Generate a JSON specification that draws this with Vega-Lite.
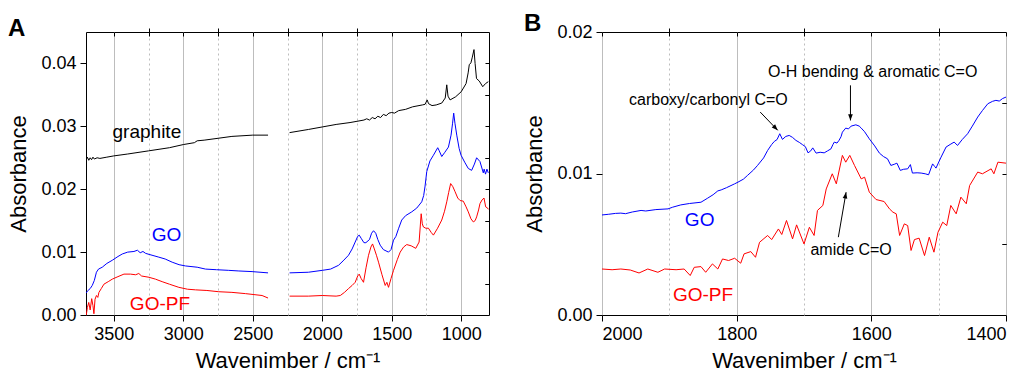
{
  "$schema": "https://vega.github.io/schema/vega-lite/v6.json",
  "padding": {"left": 7, "top": 11, "right": 5, "bottom": 2},
  "background": "white",
  "config": {
    "font": "Liberation Sans",
    "view": {"stroke": "#000000", "strokeWidth": 1},
    "axis": {
      "labelFont": "Liberation Sans", "titleFont": "Liberation Sans",
      "labelFontSize": 18, "titleFontSize": 22, "titleFontWeight": "normal",
      "labelColor": "#000000", "titleColor": "#000000", "tickColor": "#000000",
      "domain": false, "gridColor": "#bdbdbd", "gridWidth": 1, "tickWidth": 1
    },
    "title": {"fontSize": 24, "fontWeight": "bold", "anchor": "start", "frame": "bounds", "font": "Liberation Sans", "color": "#000000"}
  },
  "datasets": {
    "A": [
      {"s":"graphite","g":"L","w":3698,"a":0.0247},{"s":"graphite","g":"L","w":3690,"a":0.0251},{"s":"graphite","g":"L","w":3680,"a":0.0246},{"s":"graphite","g":"L","w":3670,"a":0.0250},{"s":"graphite","g":"L","w":3660,"a":0.0247},{"s":"graphite","g":"L","w":3650,"a":0.0251},{"s":"graphite","g":"L","w":3640,"a":0.0248},{"s":"graphite","g":"L","w":3620,"a":0.0250},{"s":"graphite","g":"L","w":3600,"a":0.0249},{"s":"graphite","g":"L","w":3550,"a":0.0251},{"s":"graphite","g":"L","w":3500,"a":0.0253},{"s":"graphite","g":"L","w":3400,"a":0.0256},{"s":"graphite","g":"L","w":3250,"a":0.0261},{"s":"graphite","g":"L","w":3100,"a":0.0266},{"s":"graphite","g":"L","w":3000,"a":0.0271},{"s":"graphite","g":"L","w":2920,"a":0.0274},{"s":"graphite","g":"L","w":2900,"a":0.0277},{"s":"graphite","g":"L","w":2850,"a":0.0278},{"s":"graphite","g":"L","w":2750,"a":0.0281},{"s":"graphite","g":"L","w":2650,"a":0.0284},{"s":"graphite","g":"L","w":2500,"a":0.0286},{"s":"graphite","g":"L","w":2390,"a":0.0286},
      {"s":"graphite","g":"R","w":2235,"a":0.0290},{"s":"graphite","g":"R","w":2100,"a":0.0295},{"s":"graphite","g":"R","w":2000,"a":0.0299},{"s":"graphite","g":"R","w":1900,"a":0.0303},{"s":"graphite","g":"R","w":1800,"a":0.0306},{"s":"graphite","g":"R","w":1750,"a":0.0308},{"s":"graphite","g":"R","w":1700,"a":0.0310},{"s":"graphite","g":"R","w":1680,"a":0.0312},{"s":"graphite","g":"R","w":1660,"a":0.0310},{"s":"graphite","g":"R","w":1640,"a":0.0314},{"s":"graphite","g":"R","w":1620,"a":0.0312},{"s":"graphite","g":"R","w":1600,"a":0.0316},{"s":"graphite","g":"R","w":1580,"a":0.0314},{"s":"graphite","g":"R","w":1560,"a":0.0319},{"s":"graphite","g":"R","w":1540,"a":0.0317},{"s":"graphite","g":"R","w":1520,"a":0.0321},{"s":"graphite","g":"R","w":1500,"a":0.0322},{"s":"graphite","g":"R","w":1480,"a":0.0321},{"s":"graphite","g":"R","w":1450,"a":0.0325},{"s":"graphite","g":"R","w":1400,"a":0.0327},{"s":"graphite","g":"R","w":1350,"a":0.0331},{"s":"graphite","g":"R","w":1280,"a":0.0334},{"s":"graphite","g":"R","w":1260,"a":0.0335},{"s":"graphite","g":"R","w":1245,"a":0.0342},{"s":"graphite","g":"R","w":1235,"a":0.0336},{"s":"graphite","g":"R","w":1210,"a":0.0333},{"s":"graphite","g":"R","w":1180,"a":0.0334},{"s":"graphite","g":"R","w":1140,"a":0.0337},{"s":"graphite","g":"R","w":1115,"a":0.0345},{"s":"graphite","g":"R","w":1104,"a":0.0366},{"s":"graphite","g":"R","w":1095,"a":0.0348},{"s":"graphite","g":"R","w":1080,"a":0.0342},{"s":"graphite","g":"R","w":1040,"a":0.0347},{"s":"graphite","g":"R","w":1000,"a":0.0355},{"s":"graphite","g":"R","w":965,"a":0.0368},{"s":"graphite","g":"R","w":950,"a":0.0385},{"s":"graphite","g":"R","w":942,"a":0.0398},{"s":"graphite","g":"R","w":930,"a":0.0401},{"s":"graphite","g":"R","w":920,"a":0.0410},{"s":"graphite","g":"R","w":908,"a":0.0422},{"s":"graphite","g":"R","w":900,"a":0.0400},{"s":"graphite","g":"R","w":890,"a":0.0376},{"s":"graphite","g":"R","w":870,"a":0.0372},{"s":"graphite","g":"R","w":845,"a":0.0363},{"s":"graphite","g":"R","w":825,"a":0.0368},{"s":"graphite","g":"R","w":805,"a":0.0371},
      {"s":"GO","g":"L","w":3698,"a":0.0035},{"s":"GO","g":"L","w":3690,"a":0.0038},{"s":"GO","g":"L","w":3670,"a":0.0042},{"s":"GO","g":"L","w":3655,"a":0.0047},{"s":"GO","g":"L","w":3640,"a":0.0055},{"s":"GO","g":"L","w":3625,"a":0.0068},{"s":"GO","g":"L","w":3610,"a":0.0073},{"s":"GO","g":"L","w":3583,"a":0.0076},{"s":"GO","g":"L","w":3550,"a":0.0082},{"s":"GO","g":"L","w":3511,"a":0.0087},{"s":"GO","g":"L","w":3470,"a":0.0093},{"s":"GO","g":"L","w":3439,"a":0.0097},{"s":"GO","g":"L","w":3400,"a":0.0100},{"s":"GO","g":"L","w":3355,"a":0.0101},{"s":"GO","g":"L","w":3330,"a":0.0103},{"s":"GO","g":"L","w":3310,"a":0.0099},{"s":"GO","g":"L","w":3290,"a":0.0101},{"s":"GO","g":"L","w":3271,"a":0.0098},{"s":"GO","g":"L","w":3240,"a":0.0096},{"s":"GO","g":"L","w":3176,"a":0.0092},{"s":"GO","g":"L","w":3130,"a":0.0089},{"s":"GO","g":"L","w":3080,"a":0.0084},{"s":"GO","g":"L","w":3030,"a":0.0080},{"s":"GO","g":"L","w":2984,"a":0.0078},{"s":"GO","g":"L","w":2900,"a":0.0076},{"s":"GO","g":"L","w":2840,"a":0.0073},{"s":"GO","g":"L","w":2760,"a":0.0072},{"s":"GO","g":"L","w":2673,"a":0.0071},{"s":"GO","g":"L","w":2600,"a":0.0070},{"s":"GO","g":"L","w":2505,"a":0.0069},{"s":"GO","g":"L","w":2390,"a":0.0067},
      {"s":"GO","g":"R","w":2235,"a":0.0067},{"s":"GO","g":"R","w":2100,"a":0.0068},{"s":"GO","g":"R","w":2000,"a":0.0071},{"s":"GO","g":"R","w":1940,"a":0.0073},{"s":"GO","g":"R","w":1883,"a":0.0079},{"s":"GO","g":"R","w":1850,"a":0.0086},{"s":"GO","g":"R","w":1811,"a":0.0095},{"s":"GO","g":"R","w":1785,"a":0.0105},{"s":"GO","g":"R","w":1763,"a":0.0116},{"s":"GO","g":"R","w":1745,"a":0.0125},{"s":"GO","g":"R","w":1734,"a":0.0127},{"s":"GO","g":"R","w":1720,"a":0.0122},{"s":"GO","g":"R","w":1700,"a":0.0115},{"s":"GO","g":"R","w":1686,"a":0.0115},{"s":"GO","g":"R","w":1660,"a":0.0120},{"s":"GO","g":"R","w":1645,"a":0.0130},{"s":"GO","g":"R","w":1631,"a":0.0134},{"s":"GO","g":"R","w":1615,"a":0.0130},{"s":"GO","g":"R","w":1600,"a":0.0120},{"s":"GO","g":"R","w":1583,"a":0.0111},{"s":"GO","g":"R","w":1560,"a":0.0104},{"s":"GO","g":"R","w":1523,"a":0.0100},{"s":"GO","g":"R","w":1505,"a":0.0104},{"s":"GO","g":"R","w":1487,"a":0.0119},{"s":"GO","g":"R","w":1470,"a":0.0125},{"s":"GO","g":"R","w":1450,"a":0.0138},{"s":"GO","g":"R","w":1428,"a":0.0151},{"s":"GO","g":"R","w":1400,"a":0.0158},{"s":"GO","g":"R","w":1356,"a":0.0164},{"s":"GO","g":"R","w":1320,"a":0.0170},{"s":"GO","g":"R","w":1284,"a":0.0180},{"s":"GO","g":"R","w":1270,"a":0.0190},{"s":"GO","g":"R","w":1260,"a":0.0205},{"s":"GO","g":"R","w":1248,"a":0.0228},{"s":"GO","g":"R","w":1225,"a":0.0245},{"s":"GO","g":"R","w":1200,"a":0.0254},{"s":"GO","g":"R","w":1169,"a":0.0266},{"s":"GO","g":"R","w":1160,"a":0.0262},{"s":"GO","g":"R","w":1140,"a":0.0252},{"s":"GO","g":"R","w":1120,"a":0.0258},{"s":"GO","g":"R","w":1092,"a":0.0267},{"s":"GO","g":"R","w":1073,"a":0.0286},{"s":"GO","g":"R","w":1062,"a":0.0305},{"s":"GO","g":"R","w":1054,"a":0.0321},{"s":"GO","g":"R","w":1045,"a":0.0305},{"s":"GO","g":"R","w":1032,"a":0.0286},{"s":"GO","g":"R","w":1015,"a":0.0265},{"s":"GO","g":"R","w":1001,"a":0.0254},{"s":"GO","g":"R","w":975,"a":0.0243},{"s":"GO","g":"R","w":949,"a":0.0233},{"s":"GO","g":"R","w":925,"a":0.0230},{"s":"GO","g":"R","w":905,"a":0.0240},{"s":"GO","g":"R","w":889,"a":0.0250},{"s":"GO","g":"R","w":865,"a":0.0244},{"s":"GO","g":"R","w":841,"a":0.0226},{"s":"GO","g":"R","w":835,"a":0.0232},{"s":"GO","g":"R","w":825,"a":0.0224},{"s":"GO","g":"R","w":815,"a":0.0232},{"s":"GO","g":"R","w":805,"a":0.0226},
      {"s":"GO-PF","g":"L","w":3698,"a":0.0},{"s":"GO-PF","g":"L","w":3690,"a":0.0012},{"s":"GO-PF","g":"L","w":3680,"a":0.0020},{"s":"GO-PF","g":"L","w":3670,"a":0.0008},{"s":"GO-PF","g":"L","w":3659,"a":0.0026},{"s":"GO-PF","g":"L","w":3650,"a":0.0015},{"s":"GO-PF","g":"L","w":3643,"a":0.0002},{"s":"GO-PF","g":"L","w":3635,"a":0.0025},{"s":"GO-PF","g":"L","w":3625,"a":0.0031},{"s":"GO-PF","g":"L","w":3615,"a":0.0028},{"s":"GO-PF","g":"L","w":3607,"a":0.0036},{"s":"GO-PF","g":"L","w":3590,"a":0.0042},{"s":"GO-PF","g":"L","w":3571,"a":0.0049},{"s":"GO-PF","g":"L","w":3540,"a":0.0053},{"s":"GO-PF","g":"L","w":3511,"a":0.0057},{"s":"GO-PF","g":"L","w":3470,"a":0.0061},{"s":"GO-PF","g":"L","w":3427,"a":0.0065},{"s":"GO-PF","g":"L","w":3380,"a":0.0065},{"s":"GO-PF","g":"L","w":3343,"a":0.0064},{"s":"GO-PF","g":"L","w":3320,"a":0.0066},{"s":"GO-PF","g":"L","w":3300,"a":0.0062},{"s":"GO-PF","g":"L","w":3247,"a":0.0060},{"s":"GO-PF","g":"L","w":3200,"a":0.0057},{"s":"GO-PF","g":"L","w":3152,"a":0.0053},{"s":"GO-PF","g":"L","w":3100,"a":0.0049},{"s":"GO-PF","g":"L","w":3032,"a":0.0044},{"s":"GO-PF","g":"L","w":2970,"a":0.0041},{"s":"GO-PF","g":"L","w":2912,"a":0.0040},{"s":"GO-PF","g":"L","w":2830,"a":0.0039},{"s":"GO-PF","g":"L","w":2745,"a":0.0037},{"s":"GO-PF","g":"L","w":2650,"a":0.0036},{"s":"GO-PF","g":"L","w":2553,"a":0.0034},{"s":"GO-PF","g":"L","w":2433,"a":0.0031},{"s":"GO-PF","g":"L","w":2390,"a":0.0027},
      {"s":"GO-PF","g":"R","w":2235,"a":0.0030},{"s":"GO-PF","g":"R","w":2100,"a":0.0030},{"s":"GO-PF","g":"R","w":2000,"a":0.0031},{"s":"GO-PF","g":"R","w":1900,"a":0.0030},{"s":"GO-PF","g":"R","w":1870,"a":0.0031},{"s":"GO-PF","g":"R","w":1840,"a":0.0036},{"s":"GO-PF","g":"R","w":1811,"a":0.0042},{"s":"GO-PF","g":"R","w":1785,"a":0.0047},{"s":"GO-PF","g":"R","w":1763,"a":0.0052},{"s":"GO-PF","g":"R","w":1745,"a":0.0062},{"s":"GO-PF","g":"R","w":1734,"a":0.0065},{"s":"GO-PF","g":"R","w":1720,"a":0.0058},{"s":"GO-PF","g":"R","w":1703,"a":0.0052},{"s":"GO-PF","g":"R","w":1685,"a":0.0075},{"s":"GO-PF","g":"R","w":1667,"a":0.0095},{"s":"GO-PF","g":"R","w":1650,"a":0.0108},{"s":"GO-PF","g":"R","w":1638,"a":0.0113},{"s":"GO-PF","g":"R","w":1625,"a":0.0105},{"s":"GO-PF","g":"R","w":1610,"a":0.0095},{"s":"GO-PF","g":"R","w":1595,"a":0.0084},{"s":"GO-PF","g":"R","w":1570,"a":0.0064},{"s":"GO-PF","g":"R","w":1547,"a":0.0047},{"s":"GO-PF","g":"R","w":1535,"a":0.0052},{"s":"GO-PF","g":"R","w":1523,"a":0.0044},{"s":"GO-PF","g":"R","w":1505,"a":0.0058},{"s":"GO-PF","g":"R","w":1487,"a":0.0071},{"s":"GO-PF","g":"R","w":1460,"a":0.0088},{"s":"GO-PF","g":"R","w":1439,"a":0.0100},{"s":"GO-PF","g":"R","w":1415,"a":0.0108},{"s":"GO-PF","g":"R","w":1392,"a":0.0112},{"s":"GO-PF","g":"R","w":1360,"a":0.0110},{"s":"GO-PF","g":"R","w":1327,"a":0.0106},{"s":"GO-PF","g":"R","w":1303,"a":0.0116},{"s":"GO-PF","g":"R","w":1295,"a":0.0140},{"s":"GO-PF","g":"R","w":1288,"a":0.0161},{"s":"GO-PF","g":"R","w":1280,"a":0.0145},{"s":"GO-PF","g":"R","w":1272,"a":0.0140},{"s":"GO-PF","g":"R","w":1255,"a":0.0138},{"s":"GO-PF","g":"R","w":1236,"a":0.0138},{"s":"GO-PF","g":"R","w":1215,"a":0.0131},{"s":"GO-PF","g":"R","w":1200,"a":0.0127},{"s":"GO-PF","g":"R","w":1170,"a":0.0138},{"s":"GO-PF","g":"R","w":1140,"a":0.0151},{"s":"GO-PF","g":"R","w":1120,"a":0.0165},{"s":"GO-PF","g":"R","w":1104,"a":0.0180},{"s":"GO-PF","g":"R","w":1090,"a":0.0195},{"s":"GO-PF","g":"R","w":1076,"a":0.0209},{"s":"GO-PF","g":"R","w":1060,"a":0.0204},{"s":"GO-PF","g":"R","w":1044,"a":0.0196},{"s":"GO-PF","g":"R","w":1025,"a":0.0186},{"s":"GO-PF","g":"R","w":1008,"a":0.0182},{"s":"GO-PF","g":"R","w":985,"a":0.0181},{"s":"GO-PF","g":"R","w":965,"a":0.0172},{"s":"GO-PF","g":"R","w":949,"a":0.0164},{"s":"GO-PF","g":"R","w":930,"a":0.0153},{"s":"GO-PF","g":"R","w":913,"a":0.0148},{"s":"GO-PF","g":"R","w":900,"a":0.0150},{"s":"GO-PF","g":"R","w":889,"a":0.0156},{"s":"GO-PF","g":"R","w":875,"a":0.0167},{"s":"GO-PF","g":"R","w":865,"a":0.0177},{"s":"GO-PF","g":"R","w":850,"a":0.0183},{"s":"GO-PF","g":"R","w":836,"a":0.0186},{"s":"GO-PF","g":"R","w":824,"a":0.0172},{"s":"GO-PF","g":"R","w":810,"a":0.0170},{"s":"GO-PF","g":"R","w":805,"a":0.0168}
    ],
    "B": [
      {"s":"GO","w":2000,"a":0.00707},{"s":"GO","w":1990,"a":0.00712},{"s":"GO","w":1980,"a":0.00718},{"s":"GO","w":1972,"a":0.00720},{"s":"GO","w":1965,"a":0.00716},{"s":"GO","w":1955,"a":0.00728},{"s":"GO","w":1942,"a":0.00739},{"s":"GO","w":1935,"a":0.00735},{"s":"GO","w":1920,"a":0.00745},{"s":"GO","w":1902,"a":0.00750},{"s":"GO","w":1895,"a":0.00762},{"s":"GO","w":1883,"a":0.00778},{"s":"GO","w":1870,"a":0.00788},{"s":"GO","w":1853,"a":0.00797},{"s":"GO","w":1843,"a":0.00826},{"s":"GO","w":1835,"a":0.00850},{"s":"GO","w":1828,"a":0.00877},{"s":"GO","w":1823,"a":0.00884},{"s":"GO","w":1815,"a":0.00900},{"s":"GO","w":1803,"a":0.00927},{"s":"GO","w":1798,"a":0.00939},{"s":"GO","w":1790,"a":0.00960},{"s":"GO","w":1784,"a":0.00986},{"s":"GO","w":1775,"a":0.01025},{"s":"GO","w":1769,"a":0.01057},{"s":"GO","w":1760,"a":0.01110},{"s":"GO","w":1754,"a":0.01163},{"s":"GO","w":1748,"a":0.01205},{"s":"GO","w":1744,"a":0.01227},{"s":"GO","w":1740,"a":0.01240},{"s":"GO","w":1736,"a":0.01281},{"s":"GO","w":1732,"a":0.01241},{"s":"GO","w":1727,"a":0.01262},{"s":"GO","w":1722,"a":0.01269},{"s":"GO","w":1717,"a":0.01255},{"s":"GO","w":1712,"a":0.01234},{"s":"GO","w":1707,"a":0.01220},{"s":"GO","w":1702,"a":0.01203},{"s":"GO","w":1698,"a":0.01190},{"s":"GO","w":1694,"a":0.01146},{"s":"GO","w":1690,"a":0.01160},{"s":"GO","w":1687,"a":0.01181},{"s":"GO","w":1682,"a":0.01144},{"s":"GO","w":1676,"a":0.01150},{"s":"GO","w":1670,"a":0.01146},{"s":"GO","w":1665,"a":0.01160},{"s":"GO","w":1660,"a":0.01174},{"s":"GO","w":1657,"a":0.01205},{"s":"GO","w":1655,"a":0.01222},{"s":"GO","w":1651,"a":0.01215},{"s":"GO","w":1648,"a":0.01234},{"s":"GO","w":1645,"a":0.01260},{"s":"GO","w":1643,"a":0.01292},{"s":"GO","w":1638,"a":0.01321},{"s":"GO","w":1634,"a":0.01315},{"s":"GO","w":1630,"a":0.01335},{"s":"GO","w":1623,"a":0.01344},{"s":"GO","w":1618,"a":0.01335},{"s":"GO","w":1615,"a":0.01321},{"s":"GO","w":1610,"a":0.01295},{"s":"GO","w":1603,"a":0.01245},{"s":"GO","w":1595,"a":0.01195},{"s":"GO","w":1588,"a":0.01144},{"s":"GO","w":1582,"a":0.01120},{"s":"GO","w":1576,"a":0.01104},{"s":"GO","w":1571,"a":0.01057},{"s":"GO","w":1566,"a":0.01065},{"s":"GO","w":1562,"a":0.01073},{"s":"GO","w":1557,"a":0.01022},{"s":"GO","w":1552,"a":0.01030},{"s":"GO","w":1546,"a":0.01033},{"s":"GO","w":1542,"a":0.01063},{"s":"GO","w":1539,"a":0.01003},{"s":"GO","w":1532,"a":0.01005},{"s":"GO","w":1526,"a":0.01003},{"s":"GO","w":1520,"a":0.00998},{"s":"GO","w":1515,"a":0.00991},{"s":"GO","w":1509,"a":0.01068},{"s":"GO","w":1506,"a":0.01050},{"s":"GO","w":1504,"a":0.01038},{"s":"GO","w":1497,"a":0.01110},{"s":"GO","w":1489,"a":0.01187},{"s":"GO","w":1483,"a":0.01205},{"s":"GO","w":1477,"a":0.01222},{"s":"GO","w":1472,"a":0.01198},{"s":"GO","w":1465,"a":0.01240},{"s":"GO","w":1457,"a":0.01281},{"s":"GO","w":1450,"a":0.01335},{"s":"GO","w":1442,"a":0.01399},{"s":"GO","w":1435,"a":0.01445},{"s":"GO","w":1427,"a":0.01493},{"s":"GO","w":1420,"a":0.01510},{"s":"GO","w":1415,"a":0.01517},{"s":"GO","w":1410,"a":0.01512},{"s":"GO","w":1405,"a":0.01530},{"s":"GO","w":1400,"a":0.01540},
      {"s":"GO-PF","w":2000,"a":0.00325},{"s":"GO-PF","w":1985,"a":0.00320},{"s":"GO-PF","w":1972,"a":0.00325},{"s":"GO-PF","w":1958,"a":0.00318},{"s":"GO-PF","w":1945,"a":0.00297},{"s":"GO-PF","w":1932,"a":0.00325},{"s":"GO-PF","w":1917,"a":0.00302},{"s":"GO-PF","w":1907,"a":0.00325},{"s":"GO-PF","w":1890,"a":0.00320},{"s":"GO-PF","w":1878,"a":0.00325},{"s":"GO-PF","w":1869,"a":0.00279},{"s":"GO-PF","w":1863,"a":0.00337},{"s":"GO-PF","w":1853,"a":0.00342},{"s":"GO-PF","w":1846,"a":0.00302},{"s":"GO-PF","w":1836,"a":0.00361},{"s":"GO-PF","w":1828,"a":0.00325},{"s":"GO-PF","w":1821,"a":0.00396},{"s":"GO-PF","w":1812,"a":0.00385},{"s":"GO-PF","w":1803,"a":0.00401},{"s":"GO-PF","w":1794,"a":0.00366},{"s":"GO-PF","w":1789,"a":0.00432},{"s":"GO-PF","w":1779,"a":0.00448},{"s":"GO-PF","w":1772,"a":0.00408},{"s":"GO-PF","w":1766,"a":0.00514},{"s":"GO-PF","w":1754,"a":0.00562},{"s":"GO-PF","w":1748,"a":0.00533},{"s":"GO-PF","w":1738,"a":0.00608},{"s":"GO-PF","w":1733,"a":0.00569},{"s":"GO-PF","w":1726,"a":0.00668},{"s":"GO-PF","w":1717,"a":0.00538},{"s":"GO-PF","w":1711,"a":0.00637},{"s":"GO-PF","w":1700,"a":0.00502},{"s":"GO-PF","w":1692,"a":0.00620},{"s":"GO-PF","w":1685,"a":0.00562},{"s":"GO-PF","w":1680,"a":0.00739},{"s":"GO-PF","w":1672,"a":0.00774},{"s":"GO-PF","w":1667,"a":0.00891},{"s":"GO-PF","w":1658,"a":0.00998},{"s":"GO-PF","w":1652,"a":0.00927},{"s":"GO-PF","w":1643,"a":0.01128},{"s":"GO-PF","w":1638,"a":0.01080},{"s":"GO-PF","w":1632,"a":0.01128},{"s":"GO-PF","w":1625,"a":0.01057},{"s":"GO-PF","w":1615,"a":0.00962},{"s":"GO-PF","w":1610,"a":0.00974},{"s":"GO-PF","w":1603,"a":0.00868},{"s":"GO-PF","w":1593,"a":0.00816},{"s":"GO-PF","w":1581,"a":0.00802},{"s":"GO-PF","w":1573,"a":0.00750},{"s":"GO-PF","w":1568,"a":0.00727},{"s":"GO-PF","w":1563,"a":0.00715},{"s":"GO-PF","w":1558,"a":0.00562},{"s":"GO-PF","w":1551,"a":0.00644},{"s":"GO-PF","w":1546,"a":0.00632},{"s":"GO-PF","w":1541,"a":0.00456},{"s":"GO-PF","w":1536,"a":0.00533},{"s":"GO-PF","w":1529,"a":0.00543},{"s":"GO-PF","w":1521,"a":0.00420},{"s":"GO-PF","w":1514,"a":0.00550},{"s":"GO-PF","w":1507,"a":0.00444},{"s":"GO-PF","w":1501,"a":0.00585},{"s":"GO-PF","w":1494,"a":0.00656},{"s":"GO-PF","w":1488,"a":0.00632},{"s":"GO-PF","w":1482,"a":0.00774},{"s":"GO-PF","w":1474,"a":0.00715},{"s":"GO-PF","w":1467,"a":0.00833},{"s":"GO-PF","w":1459,"a":0.00786},{"s":"GO-PF","w":1454,"a":0.00915},{"s":"GO-PF","w":1442,"a":0.01010},{"s":"GO-PF","w":1435,"a":0.00998},{"s":"GO-PF","w":1422,"a":0.01033},{"s":"GO-PF","w":1418,"a":0.00998},{"s":"GO-PF","w":1412,"a":0.01080},{"s":"GO-PF","w":1400,"a":0.01073}
    ]
  },
  "hconcat": [
    {
      "width": 403, "height": 283,
      "title": {"text": "A", "offset": 0, "dy": 13},
      "data": {"name": "A"},
      "resolve": {"axis": {"x": "independent", "y": "independent"}},
      "layer": [
        {
          "transform": [{"filter": "datum.g == 'L'"}],
          "mark": {"type": "line", "strokeWidth": 1, "clip": true},
          "encoding": {
            "x": {"field": "w", "type": "quantitative", "scale": {"domain": [800, 3700], "reverse": true, "nice": false, "zero": false},
                  "axis": {"values": [3500, 3000, 2500, 2000, 1500, 1000], "format": "d", "title": "Wavenimber / cm⁻¹", "grid": true, "tickSize": 6, "labelPadding": 4, "titlePadding": 7}},
            "y": {"field": "a", "type": "quantitative", "scale": {"domain": [0, 0.045], "nice": false, "zero": false},
                  "axis": {"values": [0, 0.01, 0.02, 0.03, 0.04], "format": ".2f", "title": "Absorbance", "grid": false, "tickSize": 6, "labelPadding": 4, "titlePadding": 10}},
            "color": {"field": "s", "type": "nominal", "scale": {"domain": ["graphite", "GO", "GO-PF"], "range": ["#000000", "#0000ff", "#ff0000"]}, "legend": null}
          }
        },
        {
          "transform": [{"filter": "datum.g == 'R'"}],
          "mark": {"type": "line", "strokeWidth": 1, "clip": true},
          "encoding": {
            "x": {"field": "w", "type": "quantitative", "axis": {"values": [3250, 2750, 2250, 1750, 1250], "grid": true, "gridDash": [2, 3], "tickSize": 4, "labels": false, "title": null}},
            "y": {"field": "a", "type": "quantitative", "axis": {"values": [0.005, 0.015, 0.025, 0.035], "grid": false, "tickSize": -4, "labels": false, "title": null}},
            "color": {"field": "s", "type": "nominal", "legend": null}
          }
        },
        {
          "data": {"values": [
            {"t": "graphite", "s": "graphite", "w": 3262, "a": 0.0291},
            {"t": "GO", "s": "GO", "w": 3120, "a": 0.01266},
            {"t": "GO-PF", "s": "GO-PF", "w": 3168, "a": 0.00175}
          ]},
          "mark": {"type": "text", "fontSize": 19, "align": "center", "baseline": "middle"},
          "encoding": {
            "x": {"field": "w", "type": "quantitative", "axis": {"orient": "top", "values": [3500, 3250, 3000, 2750, 2500, 2250, 2000, 1750, 1500, 1250, 1000], "grid": false, "tickSize": -4, "labels": false, "title": null}},
            "y": {"field": "a", "type": "quantitative", "axis": {"orient": "right", "values": [0.005, 0.01, 0.015, 0.02, 0.025, 0.03, 0.035, 0.04], "grid": false, "tickSize": -4, "labels": false, "title": null}},
            "text": {"field": "t"},
            "color": {"field": "s", "type": "nominal", "legend": null}
          }
        }
      ]
    },
    {
      "width": 404, "height": 283,
      "title": {"text": "B", "offset": 0, "dy": 13},
      "data": {"name": "B"},
      "resolve": {"axis": {"x": "independent", "y": "independent"}},
      "layer": [
        {
          "mark": {"type": "line", "strokeWidth": 1, "clip": true},
          "encoding": {
            "x": {"field": "w", "type": "quantitative", "scale": {"domain": [1400, 2000], "reverse": true, "nice": false, "zero": false},
                  "axis": {"values": [2000, 1800, 1600, 1400], "format": "d", "title": "Wavenimber / cm⁻¹", "grid": true, "tickSize": 6, "labelPadding": 4, "titlePadding": 7}},
            "y": {"field": "a", "type": "quantitative", "scale": {"domain": [0, 0.02], "nice": false, "zero": false},
                  "axis": {"values": [0, 0.01, 0.02], "format": ".2f", "title": "Absorbance", "grid": false, "tickSize": 6, "labelPadding": 4, "titlePadding": 10}},
            "color": {"field": "s", "type": "nominal", "scale": {"domain": ["GO", "GO-PF"], "range": ["#0000ff", "#ff0000"]}, "legend": null}
          }
        },
        {
          "data": {"values": [
            {"t": "GO", "s": "GO", "w": 1855, "a": 0.00668},
            {"t": "GO-PF", "s": "GO-PF", "w": 1850, "a": 0.00141}
          ]},
          "mark": {"type": "text", "fontSize": 19, "align": "center", "baseline": "middle"},
          "encoding": {
            "x": {"field": "w", "type": "quantitative", "axis": {"values": [1900, 1700, 1500], "grid": true, "gridDash": [2, 3], "tickSize": 4, "labels": false, "title": null}},
            "y": {"field": "a", "type": "quantitative", "axis": {"values": [0.005, 0.015], "grid": false, "tickSize": -4, "labels": false, "title": null}},
            "text": {"field": "t"},
            "color": {"field": "s", "type": "nominal", "legend": null}
          }
        },
        {
          "data": {"values": [
            {"t": "carboxy/carbonyl C=O", "w": 1842, "a": 0.01521},
            {"t": "O-H bending & aromatic C=O", "w": 1598, "a": 0.01717},
            {"t": "amide C=O", "w": 1630, "a": 0.00456}
          ]},
          "mark": {"type": "text", "fontSize": 16, "align": "center", "baseline": "middle", "color": "#000000"},
          "encoding": {
            "x": {"field": "w", "type": "quantitative", "axis": {"orient": "top", "values": [2000, 1900, 1800, 1700, 1600, 1500, 1400], "grid": false, "tickSize": -4, "labels": false, "title": null}},
            "y": {"field": "a", "type": "quantitative", "axis": {"orient": "right", "values": [0.005, 0.01, 0.015], "grid": false, "tickSize": -4, "labels": false, "title": null}},
            "text": {"field": "t"}
          }
        },
        {
          "data": {"values": [
            {"w1": 1765, "a1": 0.01434, "w2": 1739, "a2": 0.01305},
            {"w1": 1631, "a1": 0.01623, "w2": 1631, "a2": 0.01375},
            {"w1": 1649, "a1": 0.0055, "w2": 1637.5, "a2": 0.00868}
          ]},
          "mark": {"type": "rule", "color": "#000000", "strokeWidth": 1},
          "encoding": {
            "x": {"field": "w1", "type": "quantitative", "axis": null},
            "y": {"field": "a1", "type": "quantitative", "axis": null},
            "x2": {"field": "w2"},
            "y2": {"field": "a2"}
          }
        },
        {
          "data": {"values": [{"w": 1739, "a": 0.01305}]},
          "mark": {"type": "point", "shape": "M0,0L-0.6,1.6L0.6,1.6Z", "filled": true, "size": 60, "angle": 136, "color": "#000000", "opacity": 1},
          "encoding": {"x": {"field": "w", "type": "quantitative", "axis": null}, "y": {"field": "a", "type": "quantitative", "axis": null}}
        },
        {
          "data": {"values": [{"w": 1631, "a": 0.01375}]},
          "mark": {"type": "point", "shape": "M0,0L-0.6,1.6L0.6,1.6Z", "filled": true, "size": 60, "angle": 180, "color": "#000000", "opacity": 1},
          "encoding": {"x": {"field": "w", "type": "quantitative", "axis": null}, "y": {"field": "a", "type": "quantitative", "axis": null}}
        },
        {
          "data": {"values": [{"w": 1637.5, "a": 0.00868}]},
          "mark": {"type": "point", "shape": "M0,0L-0.6,1.6L0.6,1.6Z", "filled": true, "size": 60, "angle": 10, "color": "#000000", "opacity": 1},
          "encoding": {"x": {"field": "w", "type": "quantitative", "axis": null}, "y": {"field": "a", "type": "quantitative", "axis": null}}
        }
      ]
    }
  ],
  "spacing": 33,
  "align": "none"
}
